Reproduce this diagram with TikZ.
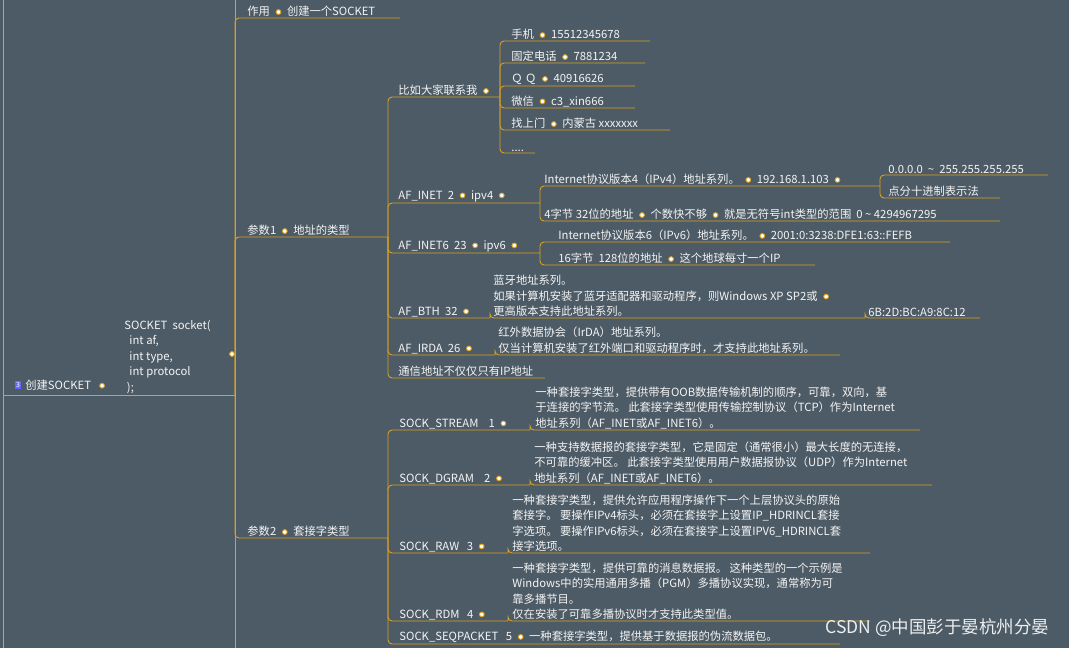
\documentclass[tikz,border=0pt]{standalone}
\usepackage{fontspec}
\setmainfont{Noto Sans CJK SC}
\definecolor{bg}{HTML}{4D5B66}
\definecolor{gold}{HTML}{D9A021}
\definecolor{txtc}{HTML}{F4F4F4}
\newcommand\dt{\enspace\tikz[baseline=-3.6pt]\draw[gold,fill=white,line width=0.9pt] (0,0) circle (2.4pt);\enspace}
% name, parent, x text, y underline, x end, text
\newcommand\mmnode[6]{%
  \coordinate (#1) at (#5,#4);
  \node[txt, anchor=south west] (#1t) at (#3,#4) {#6};
  \draw[br] (#2) |- (#1);}
\begin{document}
\begin{tikzpicture}[x=1pt,y=-1pt,
    txt/.style={text=txtc, font=\fontsize{11.3}{15.5}\selectfont, align=left, inner sep=1.2pt},
    br/.style={gold, line width=0.9pt, rounded corners=4pt}]
\fill[bg] (0,0) rectangle (1069,648);
\useasboundingbox (0,0) rectangle (1069,648);

% trunk
\draw[gold, line width=0.9pt] (3,0) -- (3,648);
\draw[gold, line width=0.9pt] (235,0) -- (235,648);
\coordinate (root) at (3,395);
\coordinate (sock) at (235,395);
\draw[br] (root) -- (sock);
\node[fill=blue!60, text=white, inner sep=1.2pt, font=\fontsize{7}{7}\selectfont] (badge) at (18,385) {3};
\node[txt, anchor=west] (roott) at (24,385) {创建SOCKET \dt};
\node[txt, anchor=south west] (sockt) at (123,395) {SOCKET\ \ socket(\\\ \ int af,\\\ \ int type,\\\ \ int protocol\\\ );};
\draw[gold,fill=white,line width=0.9pt] (232,354) circle (2.4pt);

% level 1
\mmnode{zy}{sock}{246}{18}{400}{作用\dt 创建一个SOCKET}
\mmnode{p1}{sock}{246}{237}{388}{参数1\dt 地址的类型}
\mmnode{p2}{sock}{246}{538}{388}{参数2\dt 套接字类型}

% address types
\mmnode{lx}{p1}{397}{97}{500}{比如大家联系我\dt}
\mmnode{inet}{p1}{397}{203}{540}{AF\_INET\ \ 2\dt ipv4\dt}
\mmnode{inet6}{p1}{397}{253}{540}{AF\_INET6\ \ 23\dt ipv6\dt}
\mmnode{bth}{p1}{397}{318}{490}{AF\_BTH\ \ 32\dt}
\mmnode{irda}{p1}{397}{355}{495}{AF\_IRDA\ \ 26\dt}
\mmnode{ip}{p1}{397}{378}{545}{通信地址不仅仅只有IP地址}

% contacts
\mmnode{sj}{lx}{510}{41}{650}{手机\dt 15512345678}
\mmnode{gd}{lx}{510}{63}{645}{固定电话\dt 7881234}
\mmnode{qq}{lx}{510}{86}{635}{Ｑ Ｑ\dt 40916626}
\mmnode{wx}{lx}{510}{108}{635}{微信\dt c3\_xin666}
\mmnode{zs}{lx}{510}{130}{670}{找上门\dt 内蒙古 xxxxxxx}
\mmnode{dd}{lx}{510}{153}{535}{....}

% ipv4
\mmnode{v4}{inet}{543}{186}{880}{Internet协议版本4（IPv4）地址系列。\dt 192.168.1.103\dt}
\mmnode{v4b}{inet}{543}{221}{1000}{4字节 32位的地址\dt 个数快不够\dt 就是无符号int类型的范围\ \ 0 \textasciitilde{} 4294967295}
\mmnode{rng}{v4}{887}{175}{1048}{0.0.0.0\ \ \textasciitilde\ \ 255.255.255.255}
\mmnode{dfs}{v4}{887}{198}{1000}{点分十进制表示法}

% ipv6
\mmnode{v6}{inet6}{557}{242}{950}{Internet协议版本6（IPv6）地址系列。\dt 2001:0:3238:DFE1:63::FEFB}
\mmnode{v6b}{inet6}{557}{265}{815}{16字节\ \ 128位的地址\dt 这个地球每寸一个IP}

% bluetooth, irda
\mmnode{bthd}{bth}{492}{318}{865}{蓝牙地址系列。\\如果计算机安装了蓝牙适配器和驱动程序，则Windows XP SP2或\dt\\更高版本支持此地址系列。}
\mmnode{mac}{bthd}{867}{318}{980}{6B:2D:BC:A9:8C:12}
\mmnode{irdad}{irda}{497}{355}{840}{红外数据协会（IrDA）地址系列。\\仅当计算机安装了红外端口和驱动程序时，才支持此地址系列。}

% socket types
\mmnode{st}{p2}{398}{430}{530}{SOCK\_STREAM\ \ \ \ 1\dt}
\mmnode{dg}{p2}{398}{485}{530}{SOCK\_DGRAM\ \ \ \ 2\dt}
\mmnode{raw}{p2}{398}{553}{508}{SOCK\_RAW\ \ \ 3\dt}
\mmnode{rdm}{p2}{398}{621}{508}{SOCK\_RDM\ \ \ 4\dt}
\mmnode{seq}{p2}{398}{644}{840}{SOCK\_SEQPACKET\ \ \ 5\dt 一种套接字类型，提供基于数据报的伪流数据包。}

\mmnode{std}{st}{534}{430}{920}{一种套接字类型，提供带有OOB数据传输机制的顺序，可靠，双向，基\\于连接的字节流。 此套接字类型使用传输控制协议（TCP）作为Internet\\地址系列（AF\_INET或AF\_INET6）。}
\mmnode{dgd}{dg}{533}{485}{932}{一种支持数据报的套接字类型，它是固定（通常很小）最大长度的无连接，\\不可靠的缓冲区。 此套接字类型使用用户数据报协议（UDP）作为Internet\\地址系列（AF\_INET或AF\_INET6）。}
\mmnode{rawd}{raw}{511}{553}{870}{一种套接字类型，提供允许应用程序操作下一个上层协议头的原始\\套接字。 要操作IPv4标头，必须在套接字上设置IP\_HDRINCL套接\\字选项。 要操作IPv6标头，必须在套接字上设置IPV6\_HDRINCL套\\接字选项。}
\mmnode{rdmd}{rdm}{511}{621}{870}{一种套接字类型，提供可靠的消息数据报。 这种类型的一个示例是\\Windows中的实用通用多播（PGM）多播协议实现，通常称为可\\靠多播节目。\\仅在安装了可靠多播协议时才支持此类型值。}

% watermark
\node[text=white!90!bg, font=\fontsize{17.5}{19}\selectfont, anchor=east] (wm) at (1053,628) {CSDN @中国彭于晏杭州分晏};
\end{tikzpicture}
\end{document}
